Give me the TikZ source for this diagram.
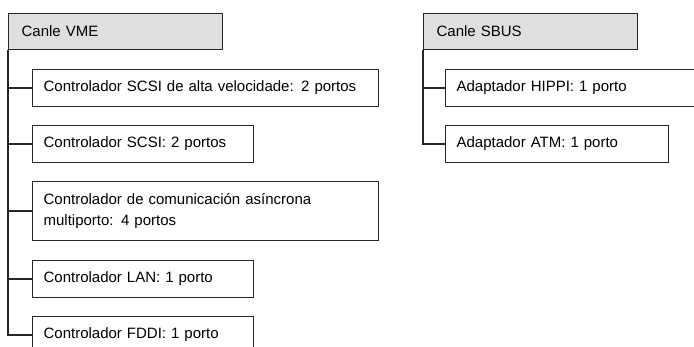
\documentclass[tikz,border=0pt]{standalone}
\usepackage{fontspec}
\setmainfont{Liberation Sans}
\usetikzlibrary{positioning}

\begin{document}
\begin{tikzpicture}[
    x=1pt, y=-1pt,
    font=\fontsize{15pt}{21pt}\selectfont,
    line width=1.2pt,
    busbox/.style={draw=black!85, fill=gray!25, anchor=north west, inner xsep=13pt, inner ysep=0pt, minimum height=36pt, text width=#1, align=left},
    portbox/.style={draw=black!85, fill=white, anchor=north west, inner xsep=11pt, inner ysep=0pt, minimum height=37pt, text width=#1, align=left},
    link/.style={draw=black!85}
]
\useasboundingbox (0,0) rectangle (694,347);
\clip (0,0) rectangle (694,347);

% Bus headers
\node[busbox=188pt] (vme) at (8,13) {Canle VME};
\node[busbox=188pt] (sbus) at (423,13) {Canle SBUS};

% Cards on the VME bus
\node[portbox=324pt] (scsifast) at (32,69) {Controlador SCSI de alta velocidade: 2 portos};
\node[portbox=199pt] (scsi) at (32,125) {Controlador SCSI: 2 portos};
\node[portbox=324pt, minimum height=59pt] (async) at (32,181) {Controlador de comunicación asíncrona\\multiporto: 4 portos};
\node[portbox=199pt] (lan) at (32,260) {Controlador LAN: 1 porto};
\node[portbox=199pt] (fddi) at (32,316) {Controlador FDDI: 1 porto};

% Cards on the SBUS
\node[portbox=238pt] (hippi) at (445,69) {Adaptador HIPPI: 1 porto};
\node[portbox=201pt] (atm) at (445,125) {Adaptador ATM: 1 porto};

% Connectors
\foreach \card in {scsifast,scsi,async,lan,fddi}
    \draw[link] (vme.south west) |- (\card.west);
\foreach \card in {hippi,atm}
    \draw[link] (sbus.south west) |- (\card.west);

\end{tikzpicture}
\end{document}
